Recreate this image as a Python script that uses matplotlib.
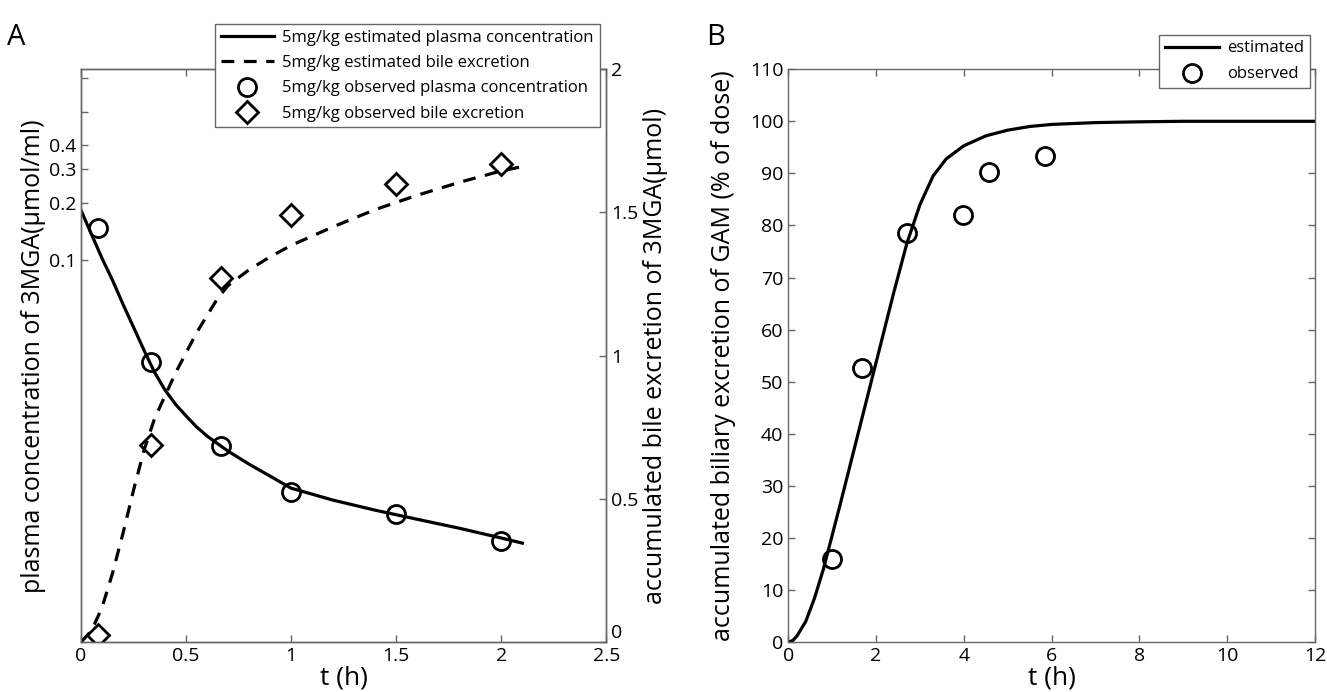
import matplotlib.pyplot as plt
from matplotlib.ticker import FixedLocator, NullLocator

plt.rcParams['font.family'] = ['Open Sans', 'DejaVu Sans']

# A: 5 mg/kg dose, plasma (log axis) and bile (linear axis)
t_obs = [0.083, 0.333, 0.667, 1.0, 1.5, 2.0]
plasma_obs = [0.147, 0.0292, 0.0107, 0.0061, 0.0047, 0.0034]
bile_obs = [0.024, 0.688, 1.27, 1.49, 1.60, 1.67]

t_plasma = [0, 0.1, 0.15, 0.2, 0.25, 0.3, 0.35, 0.4, 0.45, 0.5, 0.55, 0.6, 0.7,
            0.8, 0.9, 1.0, 1.2, 1.4, 1.6, 1.8, 2.0, 2.1]
plasma_est = [0.1828, 0.1024, 0.0786, 0.0588, 0.0446, 0.0338, 0.0259, 0.0209, 0.0176,
              0.0153, 0.0134, 0.0120, 0.0100, 0.00855, 0.0074, 0.0064, 0.00554,
              0.00491, 0.0044, 0.00395, 0.00351, 0.0033]

t_bile = [0, 0.05, 0.1, 0.15, 0.2, 0.25, 0.3, 0.35, 0.4, 0.45, 0.5, 0.55, 0.6, 0.65,
          0.7, 0.8, 0.9, 1.0, 1.2, 1.4, 1.6, 1.8, 2.0, 2.1]
bile_est = [0, 0.04, 0.12, 0.24, 0.38, 0.53, 0.67, 0.78, 0.86, 0.94, 1.01, 1.08, 1.14,
            1.20, 1.245, 1.30, 1.345, 1.385, 1.45, 1.51, 1.56, 1.605, 1.645, 1.66]

# B: accumulated biliary excretion of GAM
t_gam_obs = [1.0, 1.67, 2.7, 3.97, 4.58, 5.85]
gam_obs = [16.0, 52.7, 78.5, 82.0, 90.2, 93.3]
t_gam = [0, 0.1, 0.2, 0.4, 0.6, 0.8, 1.0, 1.2, 1.5, 1.8, 2.1, 2.4, 2.7, 3.0, 3.3,
         3.6, 4.0, 4.5, 5, 5.5, 6, 7, 8, 9, 10, 12]
gam_est = [0, 0.3, 1.2, 4, 8.5, 14, 20.5, 27, 37, 47, 57, 67, 76.5, 84, 89.5,
           92.8, 95.3, 97.2, 98.3, 99.0, 99.4, 99.75, 99.9, 100, 100, 100]

spine_c = '#666666'
lw = 2.3
ms = 13
mew = 2.0

fig = plt.figure(figsize=(13.27, 6.92), dpi=100)
ax = fig.add_axes([0.061, 0.072, 0.396, 0.828])
ax2 = ax.twinx()
bx = fig.add_axes([0.594, 0.072, 0.397, 0.828])

def style(a):
    for s in a.spines.values():
        s.set_color(spine_c)
        s.set_linewidth(1.0)
    a.tick_params(direction='in', color=spine_c, labelsize=14, length=5, width=1.0)

def legend_box(a, handles, labels, anchor, spacing):
    lg = a.legend(handles, labels, loc='upper right', bbox_to_anchor=anchor,
                  bbox_transform=fig.transFigure, fontsize=12, fancybox=False,
                  framealpha=1, edgecolor=spine_c, borderpad=0.35,
                  labelspacing=spacing, handlelength=3.2, handletextpad=0.5,
                  borderaxespad=0)
    lg.get_frame().set_linewidth(1.0)
    return lg

# panel A
l1, = ax.plot(t_plasma, plasma_est, '-', color='k', lw=lw)
p1, = ax.plot(t_obs, plasma_obs, 'o', mfc='none', mec='k', ms=ms, mew=mew)
l2, = ax2.plot(t_bile, bile_est, '--', color='k', lw=lw, dashes=(4, 3))
p2, = ax2.plot(t_obs, bile_obs, 'D', mfc='none', mec='k', ms=11, mew=mew)

ax.set_yscale('log')
ax.set_ylim(1e-3, 1)
ax.set_xlim(0, 2.5)
ax.yaxis.set_major_locator(FixedLocator([0.1, 0.2, 0.3, 0.4, 0.6, 0.9]))
ax.set_yticklabels(['0.1', '0.2', '0.3', '0.4', '', ''])
ax.yaxis.set_minor_locator(NullLocator())
ax.set_xticks([0, 0.5, 1, 1.5, 2, 2.5])
ax.set_xticklabels(['0', '0.5', '1', '1.5', '2', '2.5'])
ax.tick_params(top=True)
ax2.set_ylim(0, 2)
ax2.set_yticks([0, 0.5, 1, 1.5, 2])
ax2.set_yticklabels(['0', '0.5', '1', '1.5', '2'])
style(ax)
style(ax2)
ax2.yaxis.get_major_ticks()[0].label2.set_va('bottom')
ax.set_xlabel('t (h)', fontsize=19, labelpad=0)
ax.set_ylabel('plasma concentration of 3MGA(μmol/ml)', fontsize=18, labelpad=2)
ax2.set_ylabel('accumulated bile excretion of 3MGA(μmol)', fontsize=18, labelpad=3)

legend_box(ax2, [l1, l2, p1, p2],
           ['5mg/kg estimated plasma concentration',
            '5mg/kg estimated bile excretion',
            '5mg/kg observed plasma concentration',
            '5mg/kg observed bile excretion'],
           (0.452, 0.965), 0.55)

fig.text(0.005, 0.935, 'A', fontsize=21)

# panel B
bl, = bx.plot(t_gam, gam_est, '-', color='k', lw=lw)
bp, = bx.plot(t_gam_obs, gam_obs, 'o', mfc='none', mec='k', ms=ms, mew=mew)
bx.set_xlim(0, 12)
bx.set_ylim(0, 110)
bx.set_xticks(range(0, 13, 2))
bx.set_yticks(range(0, 111, 10))
bx.tick_params(top=True, right=True)
style(bx)
bx.set_xlabel('t (h)', fontsize=19, labelpad=0)
bx.set_ylabel('accumulated biliary excretion of GAM (% of dose)', fontsize=18, labelpad=10)

legend_box(bx, [bl, bp], ['estimated', 'observed'], (0.987, 0.95), 0.6)

fig.text(0.532, 0.935, 'B', fontsize=21)

fig.savefig('out.png', dpi=100)
